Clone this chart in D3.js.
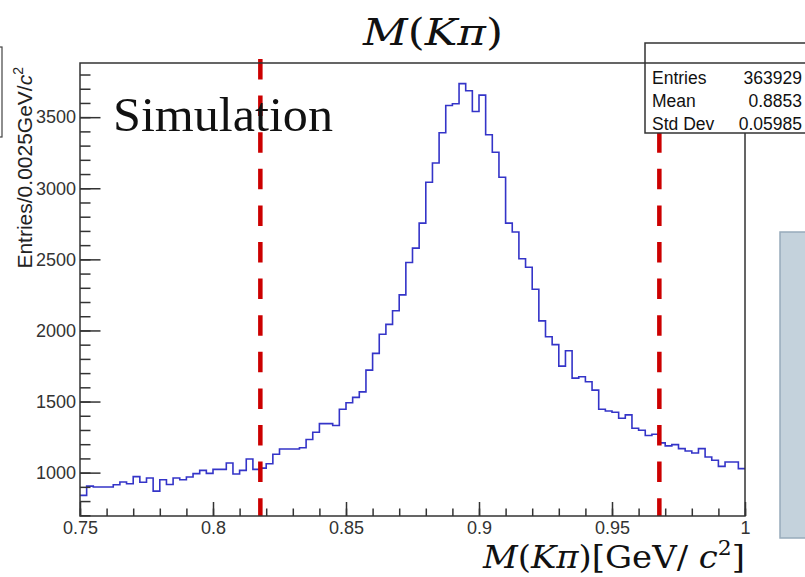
<!DOCTYPE html>
<html>
<head>
<meta charset="utf-8">
<script src="https://cdn.jsdelivr.net/npm/d3@7"></script>
<style>
  html, body { margin: 0; padding: 0; background: #fff; }
  svg { display: block; }
</style>
</head>
<body>
<div id="chart"></div>
<script>
// histogram contents, 100 bins of 0.0025 GeV/c^2 from 0.75 to 1.0
const counts = [
  840, 905, 899, 899, 899, 915, 934, 922, 972, 932,
  962, 870, 950, 917, 962, 950, 969, 993, 1016, 995,
  1023, 1023, 1068, 990, 1016, 1096, 1023, 1032, 1063, 1129,
  1166, 1166, 1166, 1175, 1233, 1284, 1345, 1345, 1331, 1446,
  1491, 1529, 1568, 1721, 1839, 1973, 2043, 2139, 2250, 2478,
  2579, 2755, 3042, 3178, 3390, 3582, 3594, 3736, 3686, 3540,
  3655, 3376, 3253, 3077, 2755, 2692, 2504, 2445, 2290, 2067,
  1956, 1900, 1749, 1857, 1665, 1674, 1639, 1580, 1446, 1434,
  1425, 1383, 1406, 1312, 1298, 1261, 1270, 1209, 1188, 1197,
  1169, 1152, 1138, 1169, 1110, 1087, 1044, 1075, 1075, 1028
];
const binStart = 0.75;
const binWidth = 0.0025;
const xDomain = [0.75, 1.0];
const yDomain = [695, 3881];
const xMajorTicks = [0.75, 0.8, 0.85, 0.9, 0.95, 1.0];
const xTickLabels = ['0.75', '0.8', '0.85', '0.9', '0.95', '1'];
const xMinorTicks = d3.range(0, 26).map(i => 0.75 + i * 0.01);
const yMajorTicks = [1000, 1500, 2000, 2500, 3000, 3500];
const yTickLabels = ['1000', '1500', '2000', '2500', '3000', '3500'];
const yMinorTicks = d3.range(7, 39).map(i => i * 100);
const cutLines = [0.8178, 0.9678];
const statNames = ['Entries', 'Mean', 'Std Dev'];
const statValues = ['363929', '0.8853', '0.05985'];

const width = 805;
const height = 577;
const frame = { left: 80, right: 745, top: 63, bottom: 516 };
const sans = '"Liberation Sans", Arial, sans-serif';
const serif = '"Liberation Serif", "Times New Roman", serif';
const mathSerif = '"DejaVu Serif", "Liberation Serif", serif';

const svg = d3.select('#chart').append('svg')
  .attr('width', width)
  .attr('height', height)
  .attr('viewBox', `0 0 ${width} ${height}`);

const x = d3.scaleLinear().domain(xDomain).range([frame.left, frame.right]);
const y = d3.scaleLinear().domain(yDomain).range([frame.bottom, frame.top]);

// cut-off box at the left edge
svg.append('rect')
  .attr('x', -30).attr('y', 47).attr('width', 32).attr('height', 90)
  .attr('fill', 'none').attr('stroke', '#444').attr('stroke-width', 1.2);

// histogram as a step line
const pts = counts.map((c, i) => [binStart + i * binWidth, c]);
pts.push([binStart + counts.length * binWidth, counts[counts.length - 1]]);

const line = d3.line()
  .x(d => x(d[0]))
  .y(d => y(d[1]))
  .curve(d3.curveStepAfter);

svg.append('path')
  .datum(pts)
  .attr('fill', 'none')
  .attr('stroke', '#3434c8')
  .attr('stroke-width', 1.6)
  .attr('d', line);

// red cut lines
svg.selectAll('.cut')
  .data(cutLines)
  .join('line')
  .attr('class', 'cut')
  .attr('x1', d => x(d)).attr('x2', d => x(d))
  .attr('y1', 59).attr('y2', frame.bottom)
  .attr('stroke', '#cc0000')
  .attr('stroke-width', 4.5)
  .attr('stroke-dasharray', '20.5,16.1');

// frame
svg.append('rect')
  .attr('x', frame.left).attr('y', frame.top)
  .attr('width', frame.right - frame.left)
  .attr('height', frame.bottom - frame.top)
  .attr('fill', 'none').attr('stroke', '#333').attr('stroke-width', 1.5);

// axes, ticks pointing inwards
const yAxis = d3.axisLeft(y).tickValues(yMajorTicks).tickSizeInner(-20.5).tickSizeOuter(0).tickPadding(4)
  .tickFormat((d, i) => yTickLabels[i]);
const yMinor = d3.axisLeft(y).tickValues(yMinorTicks).tickSizeInner(-10.5).tickSizeOuter(0).tickFormat('');
const xAxis = d3.axisBottom(x).tickValues(xMajorTicks).tickSizeInner(-14).tickSizeOuter(0).tickPadding(5)
  .tickFormat((d, i) => xTickLabels[i]);
const xMinor = d3.axisBottom(x).tickValues(xMinorTicks).tickSizeInner(-7.5).tickSizeOuter(0).tickFormat('');

function styleAxis(g) {
  g.select('.domain').remove();
  g.selectAll('.tick line').attr('stroke', '#333').attr('stroke-width', 1.5);
  g.selectAll('.tick text')
    .attr('fill', '#333')
    .style('font-family', sans)
    .style('font-size', '18px');
}

svg.append('g').attr('transform', `translate(${frame.left},0)`).call(yMinor).call(styleAxis);
svg.append('g').attr('transform', `translate(${frame.left},0)`).call(yAxis).call(styleAxis);
svg.append('g').attr('transform', `translate(0,${frame.bottom})`).call(xMinor).call(styleAxis);
svg.append('g').attr('transform', `translate(0,${frame.bottom})`).call(xAxis).call(styleAxis);

// y axis title
const yTitle = svg.append('text')
  .attr('transform', 'rotate(-90)')
  .attr('x', -67).attr('y', 32)
  .attr('text-anchor', 'end')
  .attr('fill', '#222')
  .style('font-family', sans)
  .style('font-size', '21px');
yTitle.append('tspan').text('Entries/0.0025GeV/');
yTitle.append('tspan').style('font-style', 'italic').text('c');
yTitle.append('tspan').attr('dy', -9).style('font-size', '14px').text('2');

// stats box
const stats = svg.append('g');
stats.append('rect')
  .attr('x', 645).attr('y', 43).attr('width', 200).attr('height', 90)
  .attr('fill', '#fff').attr('stroke', '#333').attr('stroke-width', 1.5);
stats.append('line')
  .attr('x1', 645).attr('x2', 805).attr('y1', 63).attr('y2', 63)
  .attr('stroke', '#333').attr('stroke-width', 1.5);
stats.selectAll('.sname')
  .data(statNames)
  .join('text')
  .attr('class', 'sname')
  .attr('x', 652).attr('y', (d, i) => 84 + i * 23)
  .attr('fill', '#111')
  .style('font-family', sans).style('font-size', '17.5px')
  .text(d => d);
stats.selectAll('.sval')
  .data(statValues)
  .join('text')
  .attr('class', 'sval')
  .attr('x', 802).attr('y', (d, i) => 84 + i * 23)
  .attr('text-anchor', 'end')
  .attr('fill', '#111')
  .style('font-family', sans).style('font-size', '17.5px')
  .text(d => d);

// grey panel on the right
svg.append('rect')
  .attr('x', 780).attr('y', 232).attr('width', 60).attr('height', 306)
  .attr('fill', '#c4d2dc').attr('stroke', '#97abbb').attr('stroke-width', 1.5);

// "Simulation"
svg.append('text')
  .attr('x', 113).attr('y', 131)
  .attr('textLength', 220).attr('lengthAdjust', 'spacingAndGlyphs')
  .attr('fill', '#111')
  .style('font-family', serif).style('font-size', '48px')
  .text('Simulation');

// title M(Kπ)
const title = svg.append('text')
  .attr('x', 363).attr('y', 45)
  .attr('textLength', 140).attr('lengthAdjust', 'spacingAndGlyphs')
  .attr('fill', '#111')
  .style('font-family', mathSerif).style('font-size', '37px');
title.append('tspan').style('font-style', 'italic').text('M');
title.append('tspan').text('(');
title.append('tspan').style('font-style', 'italic').text('Kπ');
title.append('tspan').text(')');

// x axis title
const xTitle = svg.append('text')
  .attr('x', 483).attr('y', 568)
  .attr('textLength', 262).attr('lengthAdjust', 'spacingAndGlyphs')
  .attr('fill', '#111')
  .style('font-family', mathSerif).style('font-size', '31px');
xTitle.append('tspan').style('font-style', 'italic').text('M');
xTitle.append('tspan').text('(');
xTitle.append('tspan').style('font-style', 'italic').text('Kπ');
xTitle.append('tspan').text(')[GeV/ ');
xTitle.append('tspan').style('font-style', 'italic').text('c');
xTitle.append('tspan').attr('dy', -13).style('font-size', '20px').text('2');
xTitle.append('tspan').attr('dy', 13).text(']');
</script>
</body>
</html>
